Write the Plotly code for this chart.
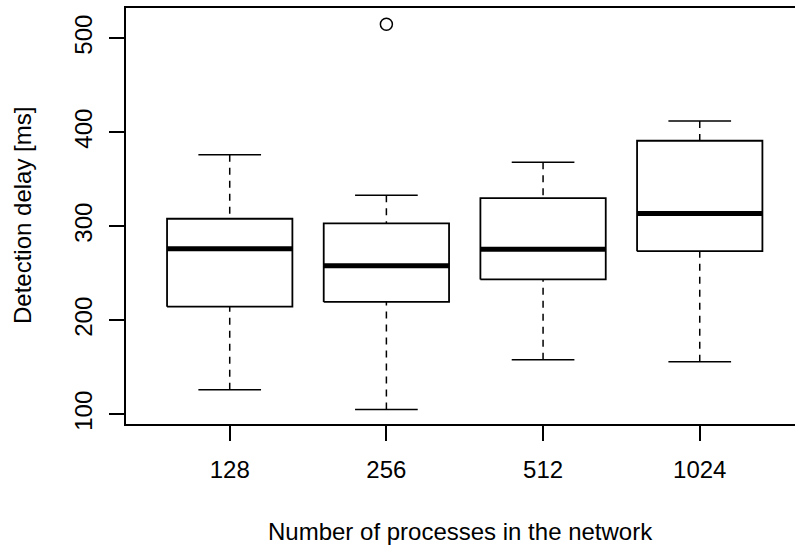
import plotly.graph_objects as go

# Five-number summaries of detection delay per network size
groups = ["128", "256", "512", "1024"]
lower_whisker = [126, 105, 158, 156]
q1 = [214.5, 219.5, 243.5, 273.5]
median = [276, 258, 275.5, 313.5]
q3 = [308, 303, 330, 391]
upper_whisker = [376, 333, 368, 412]
outlier_group = [2]
outlier_value = [515]

y_ticks = [100, 200, 300, 400, 500]

BOX_HALF = 0.4
CAP_HALF = 0.2
FONT = "Liberation Sans, Arial, Helvetica, sans-serif"

positions = list(range(1, len(groups) + 1))

box_x, box_y = [], []
med_x, med_y = [], []
cap_x, cap_y = [], []
wh_x, wh_y = [], []
for p, lo, a, m, b, hi in zip(positions, lower_whisker, q1, median, q3, upper_whisker):
    box_x += [p - BOX_HALF, p + BOX_HALF, p + BOX_HALF, p - BOX_HALF, p - BOX_HALF, None]
    box_y += [a, a, b, b, a, None]
    med_x += [p - BOX_HALF, p + BOX_HALF, None]
    med_y += [m, m, None]
    cap_x += [p - CAP_HALF, p + CAP_HALF, None, p - CAP_HALF, p + CAP_HALF, None]
    cap_y += [lo, lo, None, hi, hi, None]
    # whiskers run from the cap toward the box
    wh_x += [p, p, None, p, p, None]
    wh_y += [lo, a, None, hi, b, None]

fig = go.Figure()
fig.add_trace(go.Scatter(x=wh_x, y=wh_y, mode="lines",
                         line=dict(color="black", width=1.5, dash="7px,6px"),
                         hoverinfo="skip"))
fig.add_trace(go.Scatter(x=cap_x, y=cap_y, mode="lines",
                         line=dict(color="black", width=1.5), hoverinfo="skip"))
fig.add_trace(go.Scatter(x=box_x, y=box_y, mode="lines",
                         line=dict(color="black", width=1.8), hoverinfo="skip"))
fig.add_trace(go.Scatter(x=med_x, y=med_y, mode="lines",
                         line=dict(color="black", width=5), hoverinfo="skip"))
fig.add_trace(go.Scatter(x=outlier_group, y=outlier_value, mode="markers",
                         marker=dict(symbol="circle-open", size=12,
                                     color="black", line=dict(width=1.5)),
                         hoverinfo="skip"))

fig.update_layout(
    width=795, height=545,
    margin=dict(l=126, r=0, t=8, b=121),
    paper_bgcolor="white", plot_bgcolor="white",
    showlegend=False,
    font=dict(family=FONT, size=24, color="black"),
    xaxis=dict(
        range=[0.338, 4.608], tickvals=positions, ticktext=groups,
        showgrid=False, zeroline=False,
        showline=True, linecolor="black", linewidth=1.8, mirror=True,
        ticks="outside", ticklen=15, tickwidth=1.5, tickcolor="black",
        ticklabelstandoff=8,
    ),
    yaxis=dict(
        range=[89.7, 532.2], tickvals=y_ticks,
        showgrid=False, zeroline=False,
        showline=True, linecolor="black", linewidth=1.8,
        ticks="outside", ticklen=15, tickwidth=1.5, tickcolor="black",
        tickangle=-90, ticklabelstandoff=8,
    ),
    annotations=[
        dict(text="Number of processes in the network", xref="paper", yref="paper",
             x=0.5, y=-(531 - 424) / 416, xanchor="center", yanchor="middle",
             showarrow=False, font=dict(family=FONT, size=24)),
        dict(text="Detection delay [ms]", xref="paper", yref="paper",
             x=-(126 - 22) / 669, y=0.5, xanchor="center", yanchor="middle",
             textangle=-90, showarrow=False, font=dict(family=FONT, size=24)),
    ],
)

fig.write_html("out.html")
